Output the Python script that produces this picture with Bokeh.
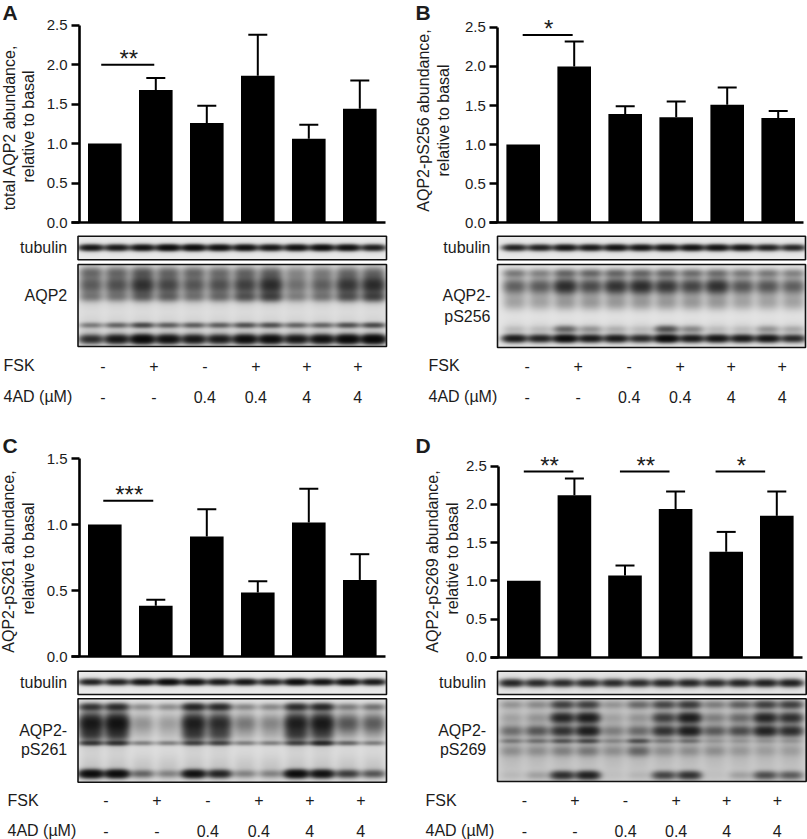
import numpy as np
from bokeh.core.properties import value
from bokeh.embed import file_html
from bokeh.layouts import column, row
from bokeh.models import FixedTicker, Range1d
from bokeh.plotting import figure
from bokeh.resources import INLINE

FONT = "Liberation Sans"
INK = "#1c1c1c"

fsk = ["-", "+", "-", "+", "+", "+"]
ad4 = ["-", "-", "0.4", "0.4", "4", "4"]
positions = [0, 1, 2, 3, 4, 5]

a_vals = [1.0, 1.68, 1.26, 1.86, 1.06, 1.44]
a_tops = [1.0, 1.83, 1.48, 2.38, 1.24, 1.80]
b_vals = [1.0, 2.0, 1.39, 1.35, 1.51, 1.34]
b_tops = [1.0, 2.32, 1.49, 1.55, 1.73, 1.43]
c_vals = [1.0, 0.385, 0.91, 0.485, 1.015, 0.58]
c_tops = [1.0, 0.43, 1.115, 0.57, 1.27, 0.775]
d_vals = [1.0, 2.12, 1.07, 1.94, 1.38, 1.85]
d_tops = [1.0, 2.34, 1.20, 2.17, 1.64, 2.17]

ticks_25 = [0.0, 0.5, 1.0, 1.5, 2.0, 2.5]
ticks_15 = [0.0, 0.5, 1.0, 1.5]

# significance: (from bar, to bar, level, stars)
a_sig = [(-0.07, 0.97, 2.0, "**")]
b_sig = [(-0.01, 0.97, 2.40, "*")]
c_sig = [(-0.03, 0.95, 1.18, "***")]
d_sig = [(0.0, 0.98, 2.43, "**"), (1.9, 2.88, 2.43, "**"), (3.79, 4.77, 2.43, "*")]

# blot bands read by eye: (row on the page, softness, darkness in each of 12 lanes)
a_tub = [(247.7, 2.8, [.85, .8, .9, 1.05, 1.05, .95, .95, .85, .95, 1.0, .95, .75]),
         (247.7, 6.0, [.04] * 12)]
b_tub = [(247.7, 2.8, [.7, .7, .85, .8, .9, .85, .9, .9, .9, .85, .7, .65]),
         (247.7, 6.0, [.04] * 12)]
c_tub = [(681.7, 2.8, [.7, .7, .85, 1.05, .95, .8, .85, .7, 1.05, .9, .95, .8]),
         (681.7, 6.0, [.04] * 12)]
d_tub = [(682.7, 3.4, [.7, .65, .65, .65, .65, .65, .7, .7, .65, .7, .75, .75]),
         (682.7, 7.0, [.05] * 12)]

a_blot = [
    (283, 17, [.2] * 12),
    (330, 13, [.07] * 12),
    (272, 5, [.28, .28, .34, .28, .28, .25, .28, .28, .14, .18, .24, .24]),
    (285, 9, [.34, .42, .72, .5, .38, .42, .55, .78, .22, .32, .65, .78]),
    (297, 4.5, [.22, .22, .3, .32, .24, .28, .4, .5, .2, .24, .4, .5]),
    (325, 2.6, [.3, .42, .62, .46, .46, .46, .55, .55, .42, .42, .55, .6]),
    (339, 4.2, [.9, 1.3, 1.8, 1.5, 1.3, 1.2, 1.6, 1.6, 1.3, 1.5, 1.8, 1.9]),
]
b_blot = [
    (288, 15, [.16] * 12),
    (333, 11, [.07] * 12),
    (273, 4, [.3, .26, .4, .4, .4, .4, .4, .36, .36, .3, .3, .26]),
    (286, 7, [.35, .38, .8, .5, .72, .8, .68, .55, .75, .42, .42, .36]),
    (303, 7, [.14, .14, .18, .18, .18, .18, .18, .18, .18, .14, .14, .14]),
    (329, 3.5, [.06, .06, .42, .2, .1, .06, .55, .25, .06, .06, .2, .12]),
    (338.3, 3.5, [1.2, 1.05, 1.6, 1.2, 1.2, .95, 1.7, 1.2, 1.3, 1.2, 1.3, .95]),
]
c_blot = [
    (726, 18, [.22, .22, .07, .07, .2, .18, .07, .07, .2, .2, .09, .09]),
    (768, 14, [.08] * 12),
    (706.7, 3.5, [.75, .85, .24, .24, .95, .9, .26, .26, .85, .9, .3, .35]),
    (723, 9, [1.1, 1.25, .18, .14, 1.0, .8, .3, .24, 1.0, 1.1, .48, .44]),
    (735, 6, [.45, .45, .03, .03, .45, .38, .06, .06, .45, .35, .06, .06]),
    (742.7, 2.4, [.65, .7, .28, .28, .55, .55, .28, .28, .55, .85, .4, .28]),
    (773.3, 3.8, [1.6, 1.6, .4, .25, 1.4, 1.0, .25, .25, 1.6, 1.4, .7, .5]),
]
d_blot = [
    (738, 32, [.1] * 12),
    (705, 4, [.16, .2, .65, .65, .16, .36, .6, .7, .26, .42, .65, .65]),
    (718, 5, [.08, .13, .95, 1.1, .08, .13, .65, 1.1, .22, .32, .95, .8]),
    (731, 5, [.28, .42, .75, 1.05, .2, .3, .75, 1.05, .4, .5, .95, .8]),
    (741, 2.4, [.22, .26, .42, .5, .16, .46, .22, .26, .09, .09, .09, .09]),
    (751, 5, [.14, .14, .2, .24, .14, .34, .14, .14, .14, .1, .08, .08]),
    (775, 4, [.04, .12, .85, 1.05, .02, .05, .62, .8, .02, .12, .55, .45]),
]


def make_panel(cfg):
    ox, oy, W, H = cfg["box"]
    c0, step = cfg["c0"], cfg["step"]
    y0, k = cfg["y0"], cfg["k"]
    X = lambda px: (px - c0) / step
    Y = lambda py: (y0 - py) / k
    p = figure(
        width=W, height=H, output_backend="svg", toolbar_location=None,
        x_range=Range1d(X(ox), X(ox + W)), y_range=Range1d(Y(oy + H), Y(oy)),
        min_border=0, outline_line_color=None, background_fill_color="white",
        border_fill_color="white",
    )
    p.grid.visible = False

    def put(xs, ys, texts, size="16px", align="left", baseline="middle", angle=0.0, style="normal"):
        p.text(x=xs, y=ys, text=texts, text_font=value(FONT), text_font_size=size,
               text_color=INK, text_align=align, text_baseline=baseline, angle=angle,
               text_font_style=style)

    # bars, error bars and caps
    p.vbar(x=positions, top=cfg["vals"], bottom=0, width=33.6 / step, color="black", line_width=0)
    err_x = positions[1:]
    tops = cfg["tops"][1:]
    p.segment(x0=err_x, x1=err_x, y0=cfg["vals"][1:], y1=tops, line_color="black", line_width=2)
    cap = 9.5 / step
    p.segment(x0=[i - cap for i in err_x], x1=[i + cap for i in err_x], y0=tops, y1=tops,
              line_color="black", line_width=2)

    # significance lines and stars
    for a, b, lev, stars in cfg["sig"]:
        p.segment(x0=[a], x1=[b], y0=[lev], y1=[lev], line_color="black", line_width=2)
        put([(a + b) / 2 + 1 / step], [lev + 6.5 / k], [stars], size="24px", align="center", baseline="alphabetic")

    # axes held at the zero lines inside the frame
    ya = p.yaxis[0]
    ya.fixed_location = X(cfg["axis_x"])
    ya.bounds = (0, cfg["ticks"][-1])
    ya.ticker = FixedTicker(ticks=cfg["ticks"])
    ya.major_label_overrides = {t: f"{t:.1f}" for t in cfg["ticks"]}
    ya.axis_line_width = 2.6
    ya.major_tick_line_width = 2.6
    ya.major_tick_out = 8
    ya.major_tick_in = 0
    ya.minor_tick_line_color = None
    ya.major_label_standoff = 4
    ya.major_label_text_font = FONT
    ya.major_label_text_font_size = "15px"
    ya.major_label_text_color = INK
    ya.axis_line_color = "black"
    ya.major_tick_line_color = "black"

    xa = p.xaxis[0]
    xa.fixed_location = 0
    xa.bounds = (X(cfg["axis_x"] - 8), X(cfg["axis_end"]))
    xa.ticker = FixedTicker(ticks=[])
    xa.axis_line_width = 2.6
    xa.axis_line_color = "black"
    xa.major_tick_line_color = None
    xa.minor_tick_line_color = None
    xa.major_label_text_font_size = "0px"

    # blots
    left, right = cfg["blot_x"]
    for (top, bottom), bands, bg, halfw, gain in cfg["blots"]:
        cols = int(round((right - left) * 2))
        rows = int(round((bottom - top) * 2))
        gx = left + (np.arange(cols) + 0.5) / 2
        gy = top + (np.arange(rows) + 0.5) / 2
        dark = np.full((rows, cols), bg)
        lanes = left + cfg["lane0"] + cfg["lane_step"] * np.arange(12)
        for row_at, soft, levels in bands:
            vert = np.exp(-((gy - row_at) / soft) ** 2)
            horiz = sum(lv * np.exp(-(np.abs(gx - c) / halfw) ** 3) for lv, c in zip(levels, lanes))
            dark = dark + np.outer(vert, horiz)
        g = (255 * np.exp(-gain * dark)).astype(np.uint32)
        img = (0xFF000000 | (g << 16) | (g << 8) | g)[::-1]
        p.image_rgba(image=[img], x=X(left), y=Y(bottom), dw=X(right) - X(left), dh=Y(top) - Y(bottom))
        p.quad(left=X(left), right=X(right), top=Y(top), bottom=Y(bottom),
               fill_color=None, line_color="#111111", line_width=1.6)

    # text beside the blots
    put([X(cfg["side_r"])], [Y(cfg["tub_y"])], ["tubulin"], align="right")
    side = cfg["side_lines"]
    put([X(cfg["side_r"])] * len(side), [Y(s[1]) for s in side], [s[0] for s in side], align="right")

    # treatment rows
    cols_x = [i + cfg["col_dx"] / step for i in positions]
    put([X(cfg["row_x"])], [Y(cfg["fsk_y"])], ["FSK"])
    put([X(cfg["row_x"])], [Y(cfg["ad_y"])], ["4AD (µM)"])
    put(cols_x, [Y(cfg["fsk_y"])] * 6, fsk, align="center")
    put(cols_x, [Y(cfg["ad_y"])] * 6, ad4, align="center")

    # y title and panel letter
    for text, lx, ly in cfg["ylab"]:
        put([X(lx)], [Y(ly)], [text], align="center", angle=np.pi / 2)
    put([X(cfg["letter"][1])], [Y(cfg["letter"][2])], [cfg["letter"][0]], size="21px", style="bold")
    return p


panel_a = make_panel(dict(
    box=(0, 0, 404, 425), c0=104.3, step=51.0, y0=222.0, k=78.92, vals=a_vals, tops=a_tops, sig=a_sig,
    ticks=ticks_25, axis_x=79, axis_end=385, blot_x=(77.5, 386), lane0=13, lane_step=25.6,
    blots=[((235.7, 259.3), a_tub, 0.03, 11.5, 2.6), ((264, 346), a_blot, 0.07, 11.5, 1.7)],
    side_r=66.7, tub_y=247, side_lines=[("AQP2", 295)], col_dx=-2, row_x=3, fsk_y=365, ad_y=396,
    ylab=[("total AQP2 abundance,", 9, 127), ("relative to basal", 28, 126)], letter=("A", 2, 12),
))
panel_b = make_panel(dict(
    box=(404, 0, 403, 425), c0=522.7, step=51.0, y0=222.3, k=78.2, vals=b_vals, tops=b_tops, sig=b_sig,
    ticks=ticks_25, axis_x=497.3, axis_end=803, blot_x=(497, 805), lane0=17, lane_step=25.3,
    blots=[((235.7, 259.3), b_tub, 0.03, 11.5, 2.6), ((264, 347), b_blot, 0.06, 11.5, 1.7)],
    side_r=490, tub_y=247, side_lines=[("AQP2-", 295), ("pS256", 316)], col_dx=4, row_x=428, fsk_y=365, ad_y=396,
    ylab=[("AQP2-pS256 abundance,", 423, 120), ("relative to basal", 443, 120)], letter=("B", 415, 12),
))
panel_c = make_panel(dict(
    box=(0, 425, 404, 414), c0=104.3, step=51.0, y0=656.0, k=132.0, vals=c_vals, tops=c_tops, sig=c_sig,
    ticks=ticks_15, axis_x=79, axis_end=385, blot_x=(77.5, 386), lane0=13, lane_step=25.6,
    blots=[((670.7, 694), c_tub, 0.03, 11.5, 2.6), ((698.3, 781.7), c_blot, 0.07, 11.5, 1.7)],
    side_r=66.7, tub_y=681.7, side_lines=[("AQP2-", 730), ("pS261", 749)], col_dx=1, row_x=7, fsk_y=799.7, ad_y=830,
    ylab=[("AQP2-pS261 abundance,", 8, 561), ("relative to basal", 28, 558)], letter=("C", 2, 445),
))
panel_d = make_panel(dict(
    box=(404, 425, 403, 414), c0=523.3, step=50.6, y0=656.7, k=76.4, vals=d_vals, tops=d_tops, sig=d_sig,
    ticks=ticks_25, axis_x=498.3, axis_end=801.7, blot_x=(497, 805.7), lane0=14, lane_step=25.3,
    blots=[((670.7, 694), d_tub, 0.04, 11.5, 2.4), ((698.3, 781), d_blot, 0.12, 11.5, 1.7)],
    side_r=485.7, tub_y=681.7, side_lines=[("AQP2-", 730), ("pS269", 749)], col_dx=0.5, row_x=425, fsk_y=799.7, ad_y=830,
    ylab=[("AQP2-pS269 abundance,", 432, 561), ("relative to basal", 452, 558)], letter=("D", 415, 445),
))

page = column(row(panel_a, panel_b), row(panel_c, panel_d),
              styles={"position": "absolute", "left": "0px", "top": "0px"})
open("out.html", "w").write(file_html(page, INLINE))
